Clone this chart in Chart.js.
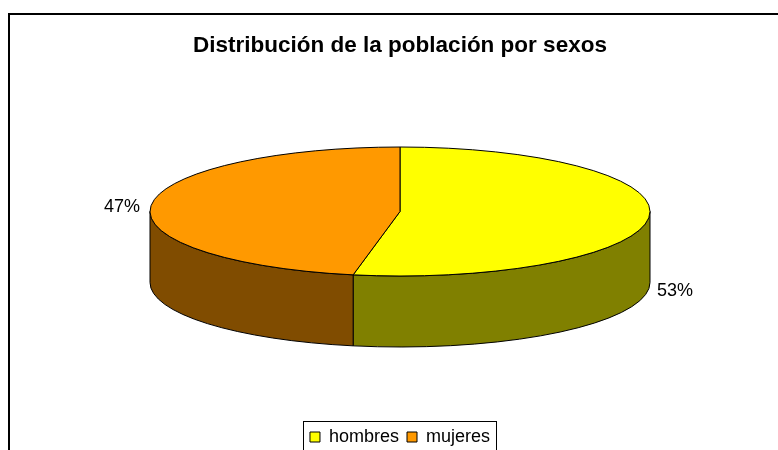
<!DOCTYPE html>
<html>
<head>
<meta charset="utf-8">
<script src="https://cdn.jsdelivr.net/npm/chart.js@4"></script>
<style>
  body { margin: 0; overflow: hidden; background: #fff; }
</style>
</head>
<body>
<canvas id="pie-chart" width="778" height="456"></canvas>
<script>
var labels = ["hombres", "mujeres"];
var values = [53, 47];
var chart_title = "Distribución de la población por sexos";

var top_colors = ["#FFFF00", "#FF9900"];
var side_colors = ["#808000", "#804C00"];

// pie is drawn flattened: ry = rx * tilt, wall height = rx * depth
var pie_tilt = 0.258;
var pie_depth = 0.284;

var frame_plugin = {
  id: "frame",
  beforeDraw(chart) {
    var ctx = chart.ctx;
    ctx.save();
    ctx.fillStyle = "#000";
    ctx.fillRect(8, 13, chart.width, 2);
    ctx.fillRect(8, 13, 2, chart.height);
    ctx.restore();
  },
  afterDraw(chart) {
    // box round the legend, like the excel one
    var boxes = chart.legend.legendHitBoxes;
    if (!boxes || !boxes.length) return;
    var left = Math.min(...boxes.map((b) => b.left)) - 7;
    var right = Math.max(...boxes.map((b) => b.left + b.width)) + 6;
    var top = Math.min(...boxes.map((b) => b.top)) - 7;
    var ctx = chart.ctx;
    ctx.save();
    ctx.strokeStyle = "#000";
    ctx.lineWidth = 1;
    ctx.strokeRect(Math.round(left) + 0.5, Math.round(top) + 0.5, Math.round(right - left), chart.height);
    ctx.restore();
  },
};

var pie3d_plugin = {
  id: "pie3d",
  beforeDatasetsDraw(chart) {
    var ctx = chart.ctx;
    var area = chart.chartArea;
    var arcs = chart.getDatasetMeta(0).data;
    var rx = (area.right - area.left) / 2;
    var ry = rx * pie_tilt;
    var depth = rx * pie_depth;
    var cx = arcs[0].x;
    var cy = area.top + ry;

    ctx.save();
    ctx.lineWidth = 1;
    ctx.strokeStyle = "#000";
    ctx.lineJoin = "round";

    // front walls
    arcs.forEach((arc, i) => {
      [-2 * Math.PI, 0, 2 * Math.PI].forEach((k) => {
        var lo = Math.max(arc.startAngle, k);
        var hi = Math.min(arc.endAngle, k + Math.PI);
        if (hi <= lo) return;
        ctx.beginPath();
        ctx.ellipse(cx, cy, rx, ry, 0, lo, hi, false);
        ctx.lineTo(cx + rx * Math.cos(hi), cy + depth + ry * Math.sin(hi));
        ctx.ellipse(cx, cy + depth, rx, ry, 0, hi, lo, true);
        ctx.closePath();
        ctx.fillStyle = side_colors[i];
        ctx.fill();
        ctx.stroke();
      });
    });

    // top faces
    arcs.forEach((arc, i) => {
      ctx.beginPath();
      ctx.moveTo(cx, cy);
      ctx.ellipse(cx, cy, rx, ry, 0, arc.startAngle, arc.endAngle, false);
      ctx.closePath();
      ctx.fillStyle = top_colors[i];
      ctx.fill();
      ctx.stroke();
    });

    // percent labels
    var total = values.reduce((a, b) => a + b, 0);
    ctx.font = "18px 'Liberation Sans', Arial, sans-serif";
    ctx.fillStyle = "#000";
    ctx.textBaseline = "middle";
    arcs.forEach((arc, i) => {
      var mid = (arc.startAngle + arc.endAngle) / 2;
      var c = Math.cos(mid), s = Math.sin(mid);
      var px = cx + rx * c + (c >= 0 ? 8 : -11);
      var py = cy + ry * s + (s > 0 ? depth : 0) + 2;
      ctx.textAlign = c >= 0 ? "left" : "right";
      ctx.fillText(Math.round((values[i] / total) * 100) + "%", px, py);
    });

    ctx.restore();
    return false;
  },
};

Chart.defaults.font.family = "'Liberation Sans', Arial, sans-serif";
Chart.defaults.color = "#000";

var pie_chart = new Chart(document.getElementById("pie-chart"), {
  type: "pie",
  data: {
    labels: labels,
    datasets: [
      {
        data: values,
        backgroundColor: top_colors,
        borderColor: "#000",
        borderWidth: 1,
      },
    ],
  },
  options: {
    responsive: false,
    animation: false,
    layout: { padding: { left: 150, right: 128, top: 0, bottom: 0 } },
    plugins: {
      title: {
        display: true,
        text: chart_title,
        font: { size: 22.5, weight: "bold" },
        padding: { top: 32, bottom: 88 },
      },
      legend: {
        position: "bottom",
        labels: {
          boxWidth: 10,
          boxHeight: 10,
          padding: 8,
          font: { size: 18 },
        },
      },
      tooltip: { enabled: false },
    },
  },
  plugins: [frame_plugin, pie3d_plugin],
});
</script>
</body>
</html>
